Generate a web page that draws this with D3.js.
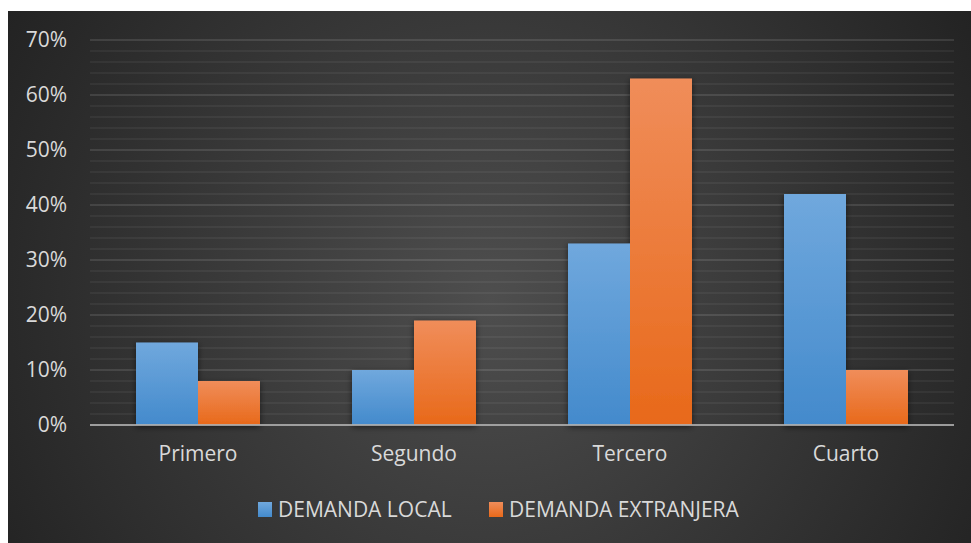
<!DOCTYPE html>
<html><head><meta charset="utf-8">
<script src="https://cdn.jsdelivr.net/npm/d3@7"></script>
<style>html,body{margin:0;padding:0;background:#fff;}svg{display:block;}</style>
</head><body>
<svg id="c" width="971" height="543"></svg>
<script>
const categories = ["Primero", "Segundo", "Tercero", "Cuarto"];
const seriesNames = ["DEMANDA LOCAL", "DEMANDA EXTRANJERA"];
const demandaLocal = [0.15, 0.10, 0.33, 0.42];
const demandaExtranjera = [0.08, 0.19, 0.63, 0.10];
const yTicks = [0, 0.1, 0.2, 0.3, 0.4, 0.5, 0.6, 0.7];
const yMinorTicks = d3.range(0, 0.7001, 0.02);

const svg = d3.select("#c");
const defs = svg.append("defs");

const bg = defs.append("radialGradient").attr("id","bg")
  .attr("gradientUnits","userSpaceOnUse").attr("cx",490).attr("cy",300).attr("r",560);
bg.append("stop").attr("offset","0").attr("stop-color","#4e4e4e");
bg.append("stop").attr("offset","1").attr("stop-color","#232323");

const gBlue = defs.append("linearGradient").attr("id","gBlue").attr("x1",0).attr("y1",0).attr("x2",0).attr("y2",1);
gBlue.append("stop").attr("offset","0").attr("stop-color","#70a8dd");
gBlue.append("stop").attr("offset","1").attr("stop-color","#438acc");
const gOrange = defs.append("linearGradient").attr("id","gOrange").attr("x1",0).attr("y1",0).attr("x2",0).attr("y2",1);
gOrange.append("stop").attr("offset","0").attr("stop-color","#f08d5a");
gOrange.append("stop").attr("offset","1").attr("stop-color","#e8691a");

const sh = defs.append("filter").attr("id","sh").attr("x","-20%").attr("y","-20%").attr("width","140%").attr("height","140%");
sh.append("feDropShadow").attr("dx",0).attr("dy",2).attr("stdDeviation",3).attr("flood-color","#000").attr("flood-opacity",0.55);

svg.append("rect").attr("x",8).attr("y",11).attr("width",963).attr("height",532).attr("fill","url(#bg)");

const pLeft = 90, pRight = 954, pTop = 40, pBottom = 425;
const y = d3.scaleLinear().domain([0, 0.7]).range([pBottom, pTop]);
const x0 = d3.scaleBand().domain(categories).range([pLeft, pRight]).paddingInner(0.426).paddingOuter(0.213);
const x1 = d3.scaleBand().domain(seriesNames).range([0, x0.bandwidth()]);
const fills = ["url(#gBlue)", "url(#gOrange)"];
const FONT = "'Open Sans', sans-serif";

// minor grid
svg.append("g").selectAll("line").data(yMinorTicks.filter(v => Math.round(v*100) % 10 !== 0))
  .join("line").attr("x1",pLeft).attr("x2",pRight)
  .attr("y1",d=>y(d)).attr("y2",d=>y(d))
  .attr("stroke","#ffffff").attr("stroke-opacity",0.07).attr("stroke-width",1.5);
// major grid
svg.append("g").selectAll("line").data(yTicks.filter(v => v > 0))
  .join("line").attr("x1",pLeft).attr("x2",pRight)
  .attr("y1",d=>y(d)).attr("y2",d=>y(d))
  .attr("stroke","#ffffff").attr("stroke-opacity",0.15).attr("stroke-width",1.5);

// bars
const rows = categories.map((c,i)=>({cat:c, vals:[demandaLocal[i], demandaExtranjera[i]]}));
const gb = svg.append("g").attr("filter","url(#sh)");
rows.forEach(r=>{
  r.vals.forEach((v,j)=>{
    gb.append("rect")
      .attr("x", x0(r.cat) + x1(seriesNames[j]))
      .attr("y", y(v))
      .attr("width", x1.bandwidth())
      .attr("height", y(0) - y(v))
      .attr("fill", fills[j]);
  });
});

// y axis
const yAxis = d3.axisLeft(y).tickValues(yTicks).tickFormat(d3.format(".0%")).tickSize(0).tickPadding(23);
const ya = svg.append("g").attr("transform",`translate(${pLeft},0)`).call(yAxis);
ya.select(".domain").remove();
ya.selectAll("text").attr("fill","#d9d9d9").attr("font-family",FONT).attr("font-size","21px");

// x axis
const xAxis = d3.axisBottom(x0).tickSize(0).tickPadding(21);
const xa = svg.append("g").attr("transform",`translate(0,${pBottom})`).call(xAxis);
xa.select(".domain").attr("stroke","#b0b0b0").attr("stroke-opacity",0.85).attr("stroke-width",2)
  .attr("d",`M${pLeft},0H${pRight}`);
xa.selectAll("text").attr("fill","#d9d9d9").attr("font-family",FONT).attr("font-size","21px");

// legend
const legendItems = [{name:seriesNames[0], x:258, fill:fills[0]},{name:seriesNames[1], x:489, fill:fills[1]}];
const lg = svg.append("g");
legendItems.forEach(it=>{
  lg.append("rect").attr("x",it.x).attr("y",502).attr("width",14).attr("height",15).attr("fill",it.fill);
  lg.append("text").attr("x",it.x+20).attr("y",509).attr("dy","0.36em")
    .attr("fill","#d9d9d9").attr("font-family",FONT).attr("font-size","21px").text(it.name);
});
</script>
</body></html>
